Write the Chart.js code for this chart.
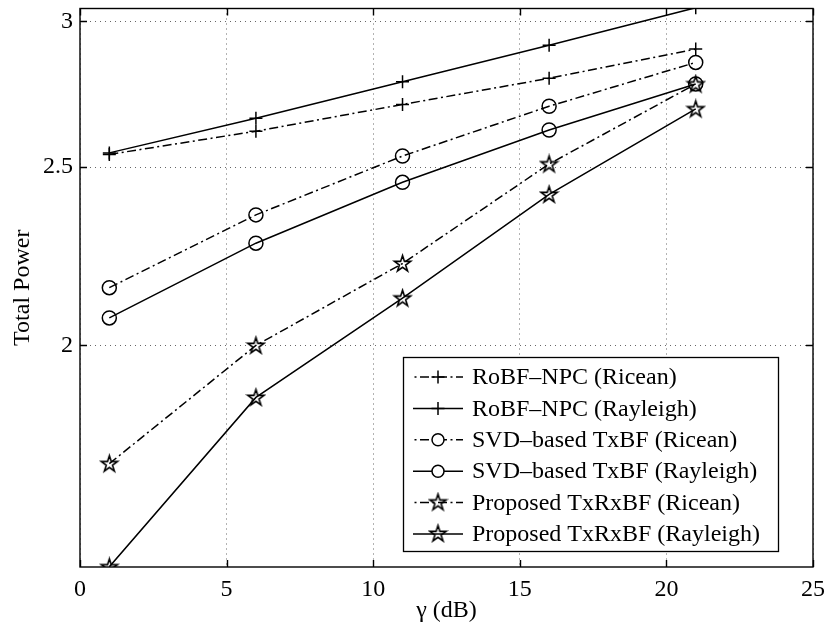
<!DOCTYPE html>
<html>
<head>
<meta charset="utf-8">
<script src="https://cdn.jsdelivr.net/npm/chart.js@4.4.1/dist/chart.umd.min.js"></script>
<style>
  html, body { margin: 0; padding: 0; background: #fff; }
  #wrap { width: 827px; height: 629px; }
</style>
</head>
<body>
<div id="wrap"><canvas id="chart" width="827" height="629"></canvas></div>
<script>
// gamma in dB
const gammaDb = [1, 6, 11, 16, 21];

const robfRicean = [2.540, 2.615, 2.704, 2.794, 2.898];
const robfRayleigh = [2.545, 2.658, 2.782, 2.912, 3.052];
const svdRicean = [2.150, 2.355, 2.535, 2.698, 2.850];
const svdRayleigh = [2.070, 2.273, 2.453, 2.619, 2.774];
const txrxRicean = [1.725, 2.000, 2.216, 2.510, 2.774];
const txrxRayleigh = [1.516, 1.874, 2.122, 2.416, 2.689];

const xTicks = [0, 5, 10, 15, 20, 25];
const yTicks = [2, 2.5, 3];
const yTickLabels = ['2', '2.5', '3'];

const FONT = 'Liberation Serif, Times New Roman, serif';
const DASHDOT = [9, 3.5, 2, 3.5];
const LW = 1.5;

// pentagram marker (matlab style)
function makeStar() {
  const c = document.createElement('canvas');
  c.width = 21; c.height = 21;
  const g = c.getContext('2d');
  const R = 8.5, r = R * 0.382;
  g.beginPath();
  for (let i = 0; i < 10; i++) {
    const rad = i % 2 === 0 ? R : r;
    const a = -Math.PI / 2 + i * Math.PI / 5;
    const px = 10.5 + rad * Math.cos(a), py = 11 + rad * Math.sin(a);
    if (i === 0) g.moveTo(px, py); else g.lineTo(px, py);
  }
  g.closePath();
  g.lineWidth = 1.6;
  g.lineJoin = 'miter';
  g.strokeStyle = '#000';
  g.stroke();
  return c;
}
const star = makeStar();

function series(label, values, dash, marker) {
  return {
    label: label,
    data: values.map((v, i) => ({ x: gammaDb[i], y: v })),
    borderColor: '#000',
    borderWidth: LW,
    borderDash: dash,
    backgroundColor: 'transparent',
    pointStyle: marker === 'star' ? star : marker,
    pointRadius: marker === 'cross' ? 6.5 : 7,
    pointBorderWidth: LW,
    pointBorderColor: '#000',
    pointBackgroundColor: 'transparent',
    fill: false,
    tension: 0,
    markerName: marker
  };
}

const datasets = [
  series('RoBF\u2013NPC (Ricean)', robfRicean, DASHDOT, 'cross'),
  series('RoBF\u2013NPC (Rayleigh)', robfRayleigh, [], 'cross'),
  series('SVD\u2013based TxBF (Ricean)', svdRicean, DASHDOT, 'circle'),
  series('SVD\u2013based TxBF (Rayleigh)', svdRayleigh, [], 'circle'),
  series('Proposed TxRxBF (Ricean)', txrxRicean, DASHDOT, 'star'),
  series('Proposed TxRxBF (Rayleigh)', txrxRayleigh, [], 'star')
];

// frame, inward ticks and matlab-like legend
const matlabAxes = {
  id: 'matlabAxes',
  afterDraw(chart) {
    const ctx = chart.ctx;
    const a = chart.chartArea;
    const xs = chart.scales.x, ys = chart.scales.y;
    ctx.save();
    ctx.strokeStyle = '#000';
    ctx.lineWidth = 1.4;
    ctx.setLineDash([]);
    ctx.strokeRect(a.left, a.top, a.right - a.left, a.bottom - a.top);
    const tl = 7;
    ctx.beginPath();
    xTicks.forEach(t => {
      const px = Math.round(xs.getPixelForValue(t)) + 0.5;
      ctx.moveTo(px, a.bottom); ctx.lineTo(px, a.bottom - tl);
      ctx.moveTo(px, a.top); ctx.lineTo(px, a.top + tl);
    });
    yTicks.forEach(t => {
      const py = Math.round(ys.getPixelForValue(t)) + 0.5;
      ctx.moveTo(a.left, py); ctx.lineTo(a.left + tl, py);
      ctx.moveTo(a.right, py); ctx.lineTo(a.right - tl, py);
    });
    ctx.stroke();

    // legend
    const bx = 403, by = 357, bw = 375, bh = 194;
    ctx.fillStyle = '#fff';
    ctx.fillRect(bx, by, bw, bh);
    ctx.lineWidth = 1.3;
    ctx.strokeRect(bx + 0.5, by + 0.5, bw, bh);
    ctx.font = '24px ' + FONT;
    ctx.textBaseline = 'middle';
    ctx.textAlign = 'left';
    chart.data.datasets.forEach((ds, i) => {
      const y = 377 + i * 31.4;
      ctx.strokeStyle = '#000';
      ctx.lineWidth = LW;
      ctx.setLineDash(ds.borderDash);
      ctx.lineDashOffset = ds.borderDash.length ? 11 : 0;
      ctx.beginPath();
      ctx.moveTo(413, y); ctx.lineTo(463, y);
      ctx.stroke();
      ctx.setLineDash([]);
      const mx = 438;
      ctx.beginPath();
      if (ds.markerName === 'cross') {
        ctx.moveTo(mx - 6.5, y); ctx.lineTo(mx + 6.5, y);
        ctx.moveTo(mx, y - 6.5); ctx.lineTo(mx, y + 6.5);
        ctx.stroke();
      } else if (ds.markerName === 'circle') {
        ctx.fillStyle = '#fff';
        ctx.arc(mx, y, 6, 0, Math.PI * 2);
        ctx.fill();
        ctx.stroke();
      } else {
        ctx.drawImage(star, mx - 10.5, y - 11);
      }
      ctx.fillStyle = '#000';
      ctx.fillText(ds.label, 472, y + 1);
    });
    ctx.restore();
  }
};

new Chart(document.getElementById('chart'), {
  type: 'line',
  data: { datasets: datasets },
  options: {
    responsive: false,
    animation: false,
    devicePixelRatio: 1,
    layout: { padding: { left: 0, right: 14, top: 6, bottom: 0 } },
    plugins: { legend: { display: false }, tooltip: { enabled: false } },
    scales: {
      x: {
        type: 'linear',
        min: 0,
        max: 25,
        afterBuildTicks: s => { s.ticks = xTicks.map(v => ({ value: v })); },
        afterFit: s => { s.height = 62; s.paddingLeft = 0; s.paddingRight = 0; },
        ticks: {
          color: '#000',
          padding: 8,
          maxRotation: 0,
          font: { family: FONT, size: 24 },
          callback: v => String(v)
        },
        grid: { color: '#666', lineWidth: 1, drawTicks: false },
        border: { display: false, dash: [1, 4] },
        title: {
          display: true,
          text: '\u03b3 (dB)',
          color: '#000',
          font: { family: FONT, size: 24 },
          padding: { top: 0, bottom: 4 }
        }
      },
      y: {
        type: 'logarithmic',
        min: 1.5157,
        max: 3.049,
        afterBuildTicks: s => { s.ticks = yTicks.map(v => ({ value: v })); },
        afterFit: s => { s.width = 80; s.paddingTop = 0; s.paddingBottom = 0; },
        ticks: {
          color: '#000',
          padding: 7,
          font: { family: FONT, size: 24 },
          callback: (v) => {
            const i = yTicks.indexOf(v);
            return i >= 0 ? yTickLabels[i] : '';
          }
        },
        grid: { color: '#666', lineWidth: 1, drawTicks: false },
        border: { display: false, dash: [1, 4] },
        title: {
          display: true,
          text: 'Total Power',
          color: '#000',
          font: { family: FONT, size: 24 },
          padding: { top: 8, bottom: 0 }
        }
      }
    }
  },
  plugins: [matlabAxes]
});
</script>
</body>
</html>
